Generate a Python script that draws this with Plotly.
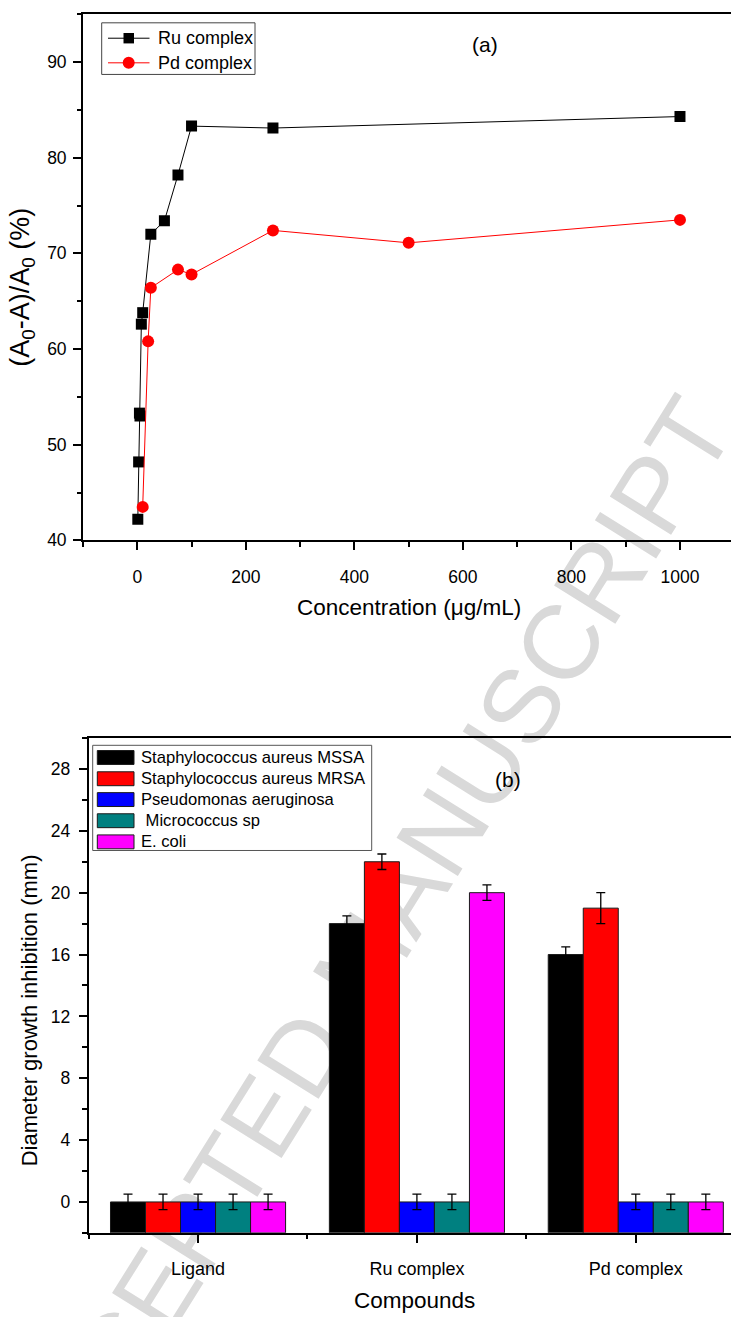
import plotly.graph_objects as go

W, H = 731, 1317

# ---- (a) radical scavenging vs concentration ----
ru_conc = [1, 2.5, 4, 5, 7.5, 10, 25, 50, 75, 100, 250, 1000]
ru_inhib = [42.2, 48.2, 53.3, 53.0, 62.6, 63.8, 72.0, 73.4, 78.2, 83.3, 83.1, 84.3]
pd_conc = [10, 20, 25, 75, 100, 250, 500, 1000]
pd_inhib = [43.5, 60.8, 66.4, 68.3, 67.8, 72.4, 71.1, 73.5]
series_a = ["Ru complex", "Pd complex"]

# ---- (b) antibacterial zones of inhibition ----
compounds = ["Ligand", "Ru complex", "Pd complex"]
strains = ["Staphylococcus aureus MSSA", "Staphylococcus aureus MRSA",
           "Pseudomonas aeruginosa", " Micrococcus sp", "E. coli"]
zone_mssa = [0, 18, 16]
zone_mrsa = [0, 22, 19]
zone_pseudo = [0, 0, 0]
zone_micro = [0, 0, 0]
zone_ecoli = [0, 20, 0]
err_mssa = [0.5, 0.5, 0.5]
err_mrsa = [0.5, 0.5, 1.0]
err_pseudo = [0.5, 0.5, 0.5]
err_micro = [0.5, 0.5, 0.5]
err_ecoli = [0.5, 0.5, 0.5]
bar_colors = ["#000000", "#ff0000", "#0000ff", "#008080", "#ff00ff"]

Y_FLOOR = -2  # bottom of the bar-chart value axis; bars rise from here

FONT = "Liberation Sans, Arial, sans-serif"


def px(x):
    return x / W


def py(y):
    return 1 - y / H


fig = go.Figure()

fig.add_trace(go.Scatter(
    x=ru_conc, y=ru_inhib, mode="lines+markers", name=series_a[0],
    line=dict(color="black", width=1),
    marker=dict(symbol="square", size=11, color="black"),
    xaxis="x", yaxis="y"))
fig.add_trace(go.Scatter(
    x=pd_conc, y=pd_inhib, mode="lines+markers", name=series_a[1],
    line=dict(color="#ff0000", width=1),
    marker=dict(symbol="circle", size=12, color="#ff0000"),
    xaxis="x", yaxis="y"))

zones = [zone_mssa, zone_mrsa, zone_pseudo, zone_micro, zone_ecoli]
errs = [err_mssa, err_mrsa, err_pseudo, err_micro, err_ecoli]
for name, vals, e, col in zip(strains, zones, errs, bar_colors):
    fig.add_trace(go.Bar(
        x=[0, 1, 2], y=[v - Y_FLOOR for v in vals], base=Y_FLOOR, name=name,
        marker=dict(color=col, line=dict(color="#1a1a1a", width=1)),
        error_y=dict(type="data", array=e, color="black", thickness=1.3, width=4.5),
        xaxis="x2", yaxis="y2"))

axis_common = dict(showline=True, linecolor="black", linewidth=1.8,
                   ticks="outside", ticklen=8, tickwidth=1.5, tickcolor="black",
                   showgrid=False, zeroline=False,
                   tickfont=dict(family=FONT, size=17.5, color="black"))

fig.update_layout(
    width=W, height=H, margin=dict(l=0, r=0, t=0, b=0),
    paper_bgcolor="white", plot_bgcolor="rgba(0,0,0,0)",
    showlegend=False, barmode="group", bargap=0.2, bargroupgap=0,
    font=dict(family=FONT, color="black"),
    xaxis=dict(domain=[px(83), 1], range=[-100, 1094], tick0=0, dtick=200,
               mirror=True, anchor="y", ticklabelstandoff=12,
               minor=dict(ticks="outside", ticklen=4.5, tickwidth=1.5,
                          tick0=0, dtick=100, tickcolor="black"),
               **axis_common),
    yaxis=dict(domain=[py(544.5), py(14.3)], range=[40, 95], tick0=0, dtick=10,
               anchor="x", ticklabelstandoff=3,
               minor=dict(ticks="outside", ticklen=4.5, tickwidth=1.5,
                          tick0=0, dtick=5, tickcolor="black"),
               **axis_common),
    xaxis2=dict(domain=[px(88.6), 1], range=[-0.5, 2.435], tickmode="array",
                tickvals=[0, 1, 2], ticktext=compounds, mirror=True, anchor="y2",
                ticklabelstandoff=11,
                minor=dict(ticks="outside", ticklen=4.5, tickwidth=1.5,
                           tick0=-0.5, dtick=1, tickcolor="black"),
                **{**axis_common, "tickfont": dict(family=FONT, size=18, color="black")}),
    yaxis2=dict(domain=[py(1242.3), py(743.7)], range=[Y_FLOOR, 30], tick0=0, dtick=4,
                anchor="x2", ticklabelstandoff=5,
                minor=dict(ticks="outside", ticklen=4.5, tickwidth=1.5,
                           tick0=0, dtick=2, tickcolor="black"),
                **axis_common),
)

ann = []
shapes = []

# watermark, drawn beneath everything
shapes.append(dict(
    type="line", xref="paper", yref="paper", layer="below",
    x0=px(90), y0=py(1384), x1=px(620), y1=py(536),
    line=dict(color="rgba(0,0,0,0)", width=1),
    label=dict(text="ACCEPTED MANUSCRIPT", textposition="middle",
               textangle=-58, xanchor="center", yanchor="middle",
               font=dict(family=FONT, size=105, color="#d9d9d9"))))

# axis titles and panel tags
ann.append(dict(text="(A<sub>0</sub>-A)/A<sub>0</sub> (%)", x=px(22), y=py(290),
                textangle=-90, font=dict(size=27)))
ann.append(dict(text="Concentration (\u03bcg/mL)", x=px(409), y=py(612),
                font=dict(size=22.5)))
ann.append(dict(text="(a)", x=px(485), y=py(45), font=dict(size=21)))
ann.append(dict(text="Diameter growth inhibition (mm)", x=px(29), y=py(1018),
                textangle=-90, font=dict(size=22)))
ann.append(dict(text="Compounds", x=px(415), y=py(1310), font=dict(size=22.5)))
ann.append(dict(text="(b)", x=px(508), y=py(785), font=dict(size=21)))

# legend for (a)
shapes.append(dict(type="rect", xref="paper", yref="paper",
                   x0=px(101.7), x1=px(255), y0=py(75), y1=py(23),
                   line=dict(color="#444444", width=1)))
leg_a_rows = [38.5, 63.3]
leg_a_cols = ["black", "#ff0000"]
for i, (yy, col, name) in enumerate(zip(leg_a_rows, leg_a_cols, series_a)):
    shapes.append(dict(type="line", xref="paper", yref="paper",
                       x0=px(108), x1=px(149.5), y0=py(yy), y1=py(yy),
                       line=dict(color=col, width=1)))
    if i == 0:
        shapes.append(dict(type="rect", xref="paper", yref="paper",
                           x0=px(123.5), x1=px(134), y0=py(yy + 5.25), y1=py(yy - 5.25),
                           fillcolor=col, line=dict(width=0)))
    else:
        shapes.append(dict(type="circle", xref="paper", yref="paper",
                           x0=px(122.7), x1=px(134.7), y0=py(yy + 6), y1=py(yy - 6),
                           fillcolor=col, line=dict(width=0)))
    ann.append(dict(text=name, x=px(155.7), y=py(yy), xanchor="left",
                    font=dict(size=18)))

# legend for (b)
shapes.append(dict(type="rect", xref="paper", yref="paper",
                   x0=px(92.7), x1=px(371.7), y0=py(857), y1=py(751),
                   line=dict(color="#555555", width=1)))
leg_b_rows = [763.3, 784.7, 805.7, 827, 848.3]
for yy, col, name in zip(leg_b_rows, bar_colors, strains):
    shapes.append(dict(type="rect", xref="paper", yref="paper",
                       x0=px(97.3), x1=px(134), y0=py(yy + 7), y1=py(yy - 7),
                       fillcolor=col, line=dict(color="#1a1a1a", width=1)))
    ann.append(dict(text=name.replace(" ", "&nbsp;", 1) if name.startswith(" ") else name,
                    x=px(139.3), y=py(yy), xanchor="left", font=dict(size=16.6)))

for a in ann:
    a.setdefault("xref", "paper")
    a.setdefault("yref", "paper")
    a.setdefault("showarrow", False)
    a.setdefault("xanchor", "center")
    a.setdefault("yanchor", "middle")
    a["font"] = dict(family=FONT, color="black", **a["font"])

fig.update_layout(annotations=ann, shapes=shapes)
fig.write_html("out.html")
